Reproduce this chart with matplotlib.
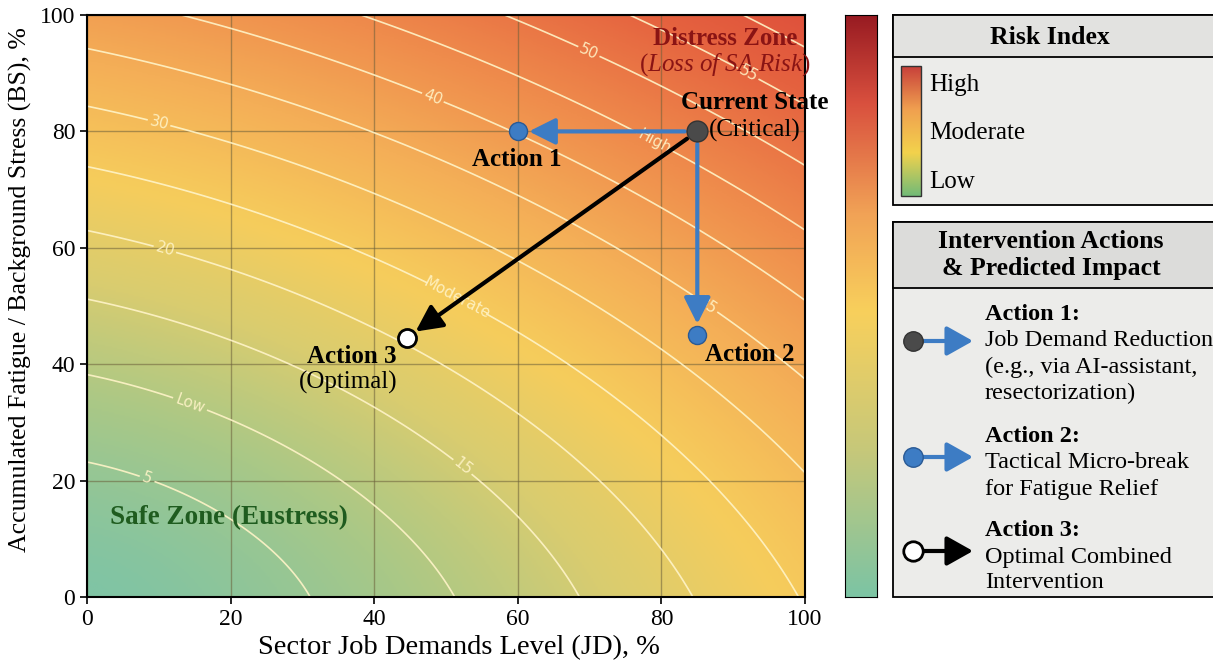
import matplotlib.pyplot as plt
import numpy as np
from matplotlib.colors import LinearSegmentedColormap, Normalize
from matplotlib.patches import Rectangle, FancyArrowPatch

plt.rcParams['font.family'] = ['Liberation Serif', 'DejaVu Serif']
plt.rcParams['mathtext.fontset'] = 'custom'
plt.rcParams['mathtext.rm'] = 'Liberation Serif'
plt.rcParams['mathtext.it'] = 'Liberation Serif:italic'

# risk surface shape
jd_stretch = 1.34     # JD axis is "longer" than BS
cross_term = 0.51     # JD x BS interaction
base_g = 538.0
risk_exp = 0.694

# contour levels and their inline labels
levels = [5, 10, 15, 20, 25, 30, 35, 40, 45, 50, 55, 60]
label_levels = [5, 10, 15, 20, 25, 30, 35, 40, 45, 50, 55]
label_text = ['5', 'Low', '15', '20', 'Moderate', '30', '35', '40', 'High', '50', '55']
label_pos = [(8.4, 20.4), (14.3, 33), (52.2, 22.2), (10.9, 60), (49.9, 47.6),
             (10.2, 82.3), (86, 49.3), (48.2, 85.9), (78.7, 77.5), (70, 94), (91.6, 88.8)]

# states (JD %, BS %)
current = (85, 80)
action1 = (60, 80)
action2 = (85, 45)
action3 = (44.5, 44.5)

ticks = [0, 20, 40, 60, 80, 100]

legend_titles = ['Action 1:', 'Action 2:', 'Action 3:']
legend_desc = [['Job Demand Reduction', '(e.g., via AI-assistant,', 'resectorization)'],
               ['Tactical Micro-break', 'for Fatigue Relief'],
               ['Optimal Combined', 'Intervention']]

blue = '#3d7cc4'
# colour of the field, anchored on risk values
field_stops = [0, 8, 16, 24, 34, 44, 56, 66]
field_cols = ['#80c4a4', '#a9c887', '#d8cc70', '#f6cd5c', '#f4ae57', '#ef8c4c', '#e5623f', '#dc4a3a']
field_cmap = LinearSegmentedColormap.from_list(
    'field', [(s / field_stops[-1], c) for s, c in zip(field_stops, field_cols)])
bar_cmap = LinearSegmentedColormap.from_list('risk', [
    (0.0, '#7cc4a4'), (0.25, '#c6c87a'), (0.49, '#f8d05c'),
    (0.66, '#f1a256'), (0.85, '#d9503e'), (1.0, '#981b22')])

fig = plt.figure(figsize=(12.13, 6.64), dpi=100)
W, H = 1213, 664
ax = fig.add_axes([87 / W, 67 / H, 718 / W, 582 / H])

jd = np.linspace(0, 100, 401)
bs = np.linspace(0, 100, 401)
X, Y = np.meshgrid(jd, bs)
g = (X / jd_stretch) ** 2 + Y ** 2 + cross_term * X * Y
risk = 5 * (g / base_g) ** risk_exp

ax.imshow(risk, origin='lower', extent=[0, 100, 0, 100], cmap=field_cmap,
          norm=Normalize(0, field_stops[-1]), aspect='auto',
          interpolation='bilinear', zorder=0)
ax.grid(True, color='#6b5f3a', lw=1, alpha=0.55)

cs = ax.contour(X, Y, risk, levels=levels, colors='#fff4c8', linewidths=1.2, alpha=0.9)
fmt = dict(zip(label_levels, label_text))
texts = ax.clabel(cs, levels=label_levels, manual=label_pos, fmt=fmt, fontsize=11,
                  colors='#fff4c8', inline=True, inline_spacing=4)
for t in texts:
    t.set_fontfamily('DejaVu Sans')

ax.set_xlim(0, 100)
ax.set_ylim(0, 100)
ax.set_xticks(ticks)
ax.set_yticks(ticks)
ax.tick_params(labelsize=17, length=5, width=1.2)
for s in ax.spines.values():
    s.set_linewidth(1.5)
ax.set_xlabel('Sector Job Demands Level (JD), %', fontsize=20.5)
ax.set_ylabel('Accumulated Fatigue / Background Stress (BS), %', fontsize=18.5)
ax.xaxis.set_label_coords(0.518, -0.065)
ax.yaxis.set_label_coords(-0.076, 0.529)

# arrows
def arrow(a, start, end, color, lw=3, sa=9, sb=8):
    a.annotate('', xy=end, xytext=start,
               arrowprops=dict(arrowstyle='-|>,head_length=0.8,head_width=0.4',
                               mutation_scale=20, color=color, lw=lw,
                               shrinkA=sa, shrinkB=sb), zorder=4)

arrow(ax, current, action1, blue)
arrow(ax, current, action2, blue)
arrow(ax, current, action3, 'black')

ax.plot(*current, 'o', ms=15, mfc='#4a4a4a', mec='#333333', zorder=5)
ax.plot(*action1, 'o', ms=13, mfc=blue, mec='#2a5a95', zorder=5)
ax.plot(*action2, 'o', ms=13, mfc=blue, mec='#2a5a95', zorder=5)
ax.plot(*action3, 'o', ms=13, mfc='white', mec='black', mew=2, zorder=5)

big = 18
ax.text(88.9, 96.0, 'Distress Zone', color='#8a1414', fontsize=big, fontweight='bold', ha='center', va='center')
ax.text(88.9, 91.4, r'($\mathit{Loss\ of\ SA\ Risk}$)', color='#8a1414', fontsize=big, ha='center', va='center')
ax.text(93.0, 84.9, 'Current State', fontsize=big, fontweight='bold', ha='center', va='center')
ax.text(93.0, 80.2, '(Critical)', fontsize=big, ha='center', va='center')
ax.text(59.9, 75.1, 'Action 1', fontsize=big, fontweight='bold', ha='center', va='center')
ax.text(92.3, 41.6, 'Action 2', fontsize=big, fontweight='bold', ha='center', va='center')
ax.text(36.9, 41.4, 'Action 3', fontsize=big, fontweight='bold', ha='center', va='center')
ax.text(36.4, 36.9, '(Optimal)', fontsize=big, ha='center', va='center')
ax.text(3.2, 13.7, 'Safe Zone (Eustress)', color='#1f5c1f', fontsize=19.5, fontweight='bold', ha='left', va='center')

# main colorbar
cax = fig.add_axes([845 / W, 67 / H, 32 / W, 582 / H])
grad = np.linspace(0, 1, 256)[:, None]
cax.imshow(grad, origin='lower', extent=[0, 1, 0, 1], cmap=bar_cmap, aspect='auto')
cax.set_xticks([])
cax.set_yticks([])

# legend panels drawn in pixel space
ov = fig.add_axes([0, 0, 1, 1], zorder=5)
ov.axis('off')
ov.add_patch(Rectangle((893, 15), 340, 190, fc='#ececea', ec='black', lw=1.3, zorder=1))
ov.add_patch(Rectangle((893, 15), 340, 42, fc='#e2e2e0', ec='black', lw=1.3, zorder=1))
ov.text(1050, 37, 'Risk Index', fontsize=18.5, fontweight='bold', ha='center', va='center')
ov.imshow(grad, origin='lower', extent=[901, 921, 196, 66], cmap=LinearSegmentedColormap.from_list(
    'small', ['#72bb78', '#f3d24c', '#f0a050', '#c8403a']), aspect='auto', zorder=3)
ov.add_patch(Rectangle((901, 66), 20, 130, fc='none', ec='#333333', lw=1, zorder=4))
for lab, yy in zip(['High', 'Moderate', 'Low'], [85, 133, 182]):
    ov.text(929, yy, lab, fontsize=18, ha='left', va='center')

ov.add_patch(Rectangle((893, 222), 340, 375, fc='#ececea', ec='black', lw=1.3, zorder=1))
ov.add_patch(Rectangle((893, 222), 340, 66, fc='#dcdcda', ec='black', lw=1.3, zorder=1))
ov.text(1051, 241, 'Intervention Actions', fontsize=18.5, fontweight='bold', ha='center', va='center')
ov.text(1051, 269, '& Predicted Impact', fontsize=18.5, fontweight='bold', ha='center', va='center')

item_y = [315, 437, 531]
item_marker = [('#4a4a4a', '#333333'), (blue, '#2a5a95'), ('white', 'black')]
item_arrow = [blue, blue, 'black']
for title, desc, y0, (fc, ec), ac in zip(legend_titles, legend_desc, item_y, item_marker, item_arrow):
    ov.text(985, y0, title, fontsize=17.5, fontweight='bold', ha='left', va='center')
    for j, line in enumerate(desc):
        ov.text(985, y0 + 26 * (j + 1), line, fontsize=17.5, ha='left', va='center')
    my = y0 + 26 if len(desc) == 3 else y0 + 20
    ov.add_patch(FancyArrowPatch((918, my), (973, my), arrowstyle='-|>,head_length=0.8,head_width=0.45',
                                 color=ac, lw=3, mutation_scale=20, shrinkA=0, shrinkB=0, zorder=3))
    ov.plot(913, my, 'o', ms=14, mfc=fc, mec=ec, mew=2 if fc == 'white' else 1, zorder=4)

ov.set_xlim(0, W)
ov.set_ylim(H, 0)

fig.savefig('out.png', dpi=100)
